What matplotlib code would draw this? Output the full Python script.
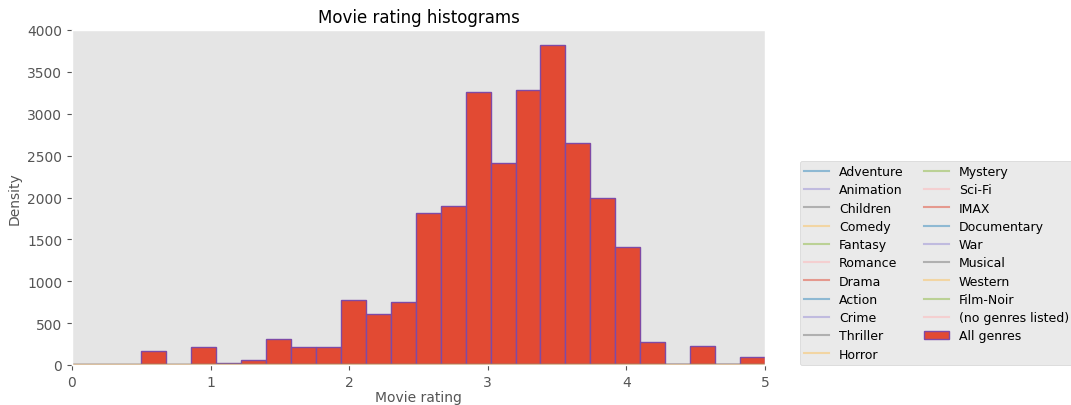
import numpy as np
import matplotlib
matplotlib.use('Agg')
import matplotlib.pyplot as plt

plt.style.use('ggplot')

# 25 bins from 0.5 to 5.0 (bin width 0.18)
bin_edges = [0.5, 0.68, 0.86, 1.04, 1.22, 1.40, 1.58, 1.76, 1.94, 2.12, 2.30,
             2.48, 2.66, 2.84, 3.02, 3.20, 3.38, 3.56, 3.74, 3.92, 4.10,
             4.28, 4.46, 4.64, 4.82, 5.0]
counts = [167, 0, 211, 18, 60, 314, 211, 211, 772, 609, 756,
          1819, 1895, 3260, 2416, 3288, 3821, 2651, 1998, 1405,
          271, 15, 223, 12, 100]

genres = ['Adventure', 'Animation', 'Children', 'Comedy', 'Fantasy', 'Romance',
          'Drama', 'Action', 'Crime', 'Thriller', 'Horror', 'Mystery', 'Sci-Fi',
          'IMAX', 'Documentary', 'War', 'Musical', 'Western', 'Film-Noir',
          '(no genres listed)']
# genre density curves sit flat at the bottom on this count scale
genre_x = [0, 5]
genre_y = [0, 0]

fig = plt.figure(figsize=(10.71, 4.06), dpi=100)
ax = fig.add_axes([72 / 1071, 40 / 406, 693 / 1071, 335 / 406])

colors = plt.rcParams['axes.prop_cycle'].by_key()['color']
centers = [(a + b) / 2 for a, b in zip(bin_edges[:-1], bin_edges[1:])]
_, _, patches = ax.hist(centers, bins=bin_edges, weights=counts, color=colors[0],
                        edgecolor='#7e4aa6', linewidth=1, label='All genres')

handles = []
for i, g in enumerate(genres):
    line, = ax.plot(genre_x, genre_y, color=colors[(i + 1) % len(colors)],
                    alpha=0.5, label=g)
    handles.append(line)
handles.append(patches[0])

ax.set_xlim(0, 5)
ax.set_ylim(0, 4000)
ax.grid(False)
ax.set_title('Movie rating histograms', fontsize=12)
ax.set_xlabel('Movie rating', fontsize=10, labelpad=1)
ax.set_ylabel('Density', fontsize=10)

ax.legend(handles=handles, loc='lower left', bbox_to_anchor=(1.05, 0), ncol=2,
          fontsize=9, borderaxespad=0, labelspacing=0.42, columnspacing=1.6,
          borderpad=0.35)

fig.savefig('out.png', dpi=100)
